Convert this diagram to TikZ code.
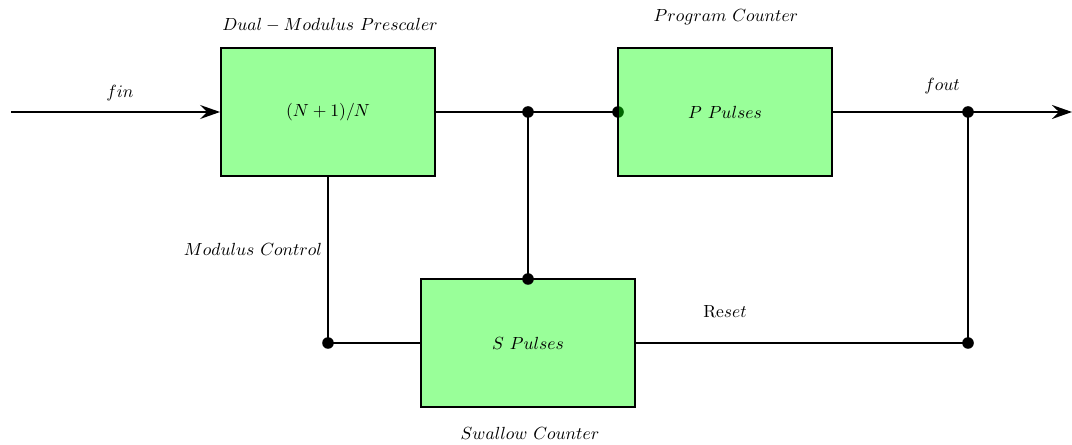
\documentclass[tikz,border=0pt]{standalone}
\usetikzlibrary{arrows.meta}
\begin{document}
\begin{tikzpicture}[x=0.02cm,y=-0.02cm,
  blk/.style={draw=black, line width=1.1pt, fill=green, fill opacity=0.4, text opacity=1, draw opacity=1,
              minimum width=4.28cm, minimum height=2.56cm, inner sep=0pt},
  wire/.style={line width=1.1pt},
  arr/.style={line width=1.1pt, -{Stealth[length=4mm,width=2.8mm,inset=1.4mm]}},
  lbl/.style={inner sep=0pt}]
\useasboundingbox (0,0) rectangle (1072,445);
% dot beneath P box west edge
\coordinate (pin) at (618,112);
\fill (pin) circle (3.3pt);
\node[blk] (pre) at (328,112) {$(N+1)/N$};
\node[blk] (P) at (725,112) {$P\ Pulses$};
\node[blk] (S) at (528,343) {$S\ Pulses$};
\coordinate (in) at (11,112);
\coordinate (out) at (1072,112);
\coordinate (j1) at (528,112);
\coordinate (j2) at (528,279);
\coordinate (j3) at (968,112);
\coordinate (j4) at (968,343);
\coordinate (j5) at (328,343);
% connectors
\draw[arr] (in) -- (pre.west);
\draw[wire] (pre.east) -- (P.west);
\draw[wire] (j1) -- (j2);
\draw[arr] (P.east) -- (out);
\draw[wire] (j3) -- (j4);
\draw[wire] (S.east) -- (j4);
\draw[wire] (pre.south) -- (j5) -- (S.west);
% dots
\foreach \p in {j1,j2,j3,j4,j5} \fill (\p) circle (3.3pt);
% labels
\node[lbl] (lfin) at (120,93) {$fin$};
\node[lbl] (lfout) at (942,86) {$fout$};
\node[lbl] (lpre) at (330,25) {$Dual-Modulus\ Prescaler$};
\node[lbl] (lprog) at (726,17) {$Program\ Counter$};
\node[lbl] (lmod) at (253,249) {$Modulus\ Control$};
\node[lbl] (lreset) at (725,312) {$\mathrm{Re}set$};
\node[lbl] (lsw) at (530,433) {$Swallow\ Counter$};
\end{tikzpicture}
\end{document}
